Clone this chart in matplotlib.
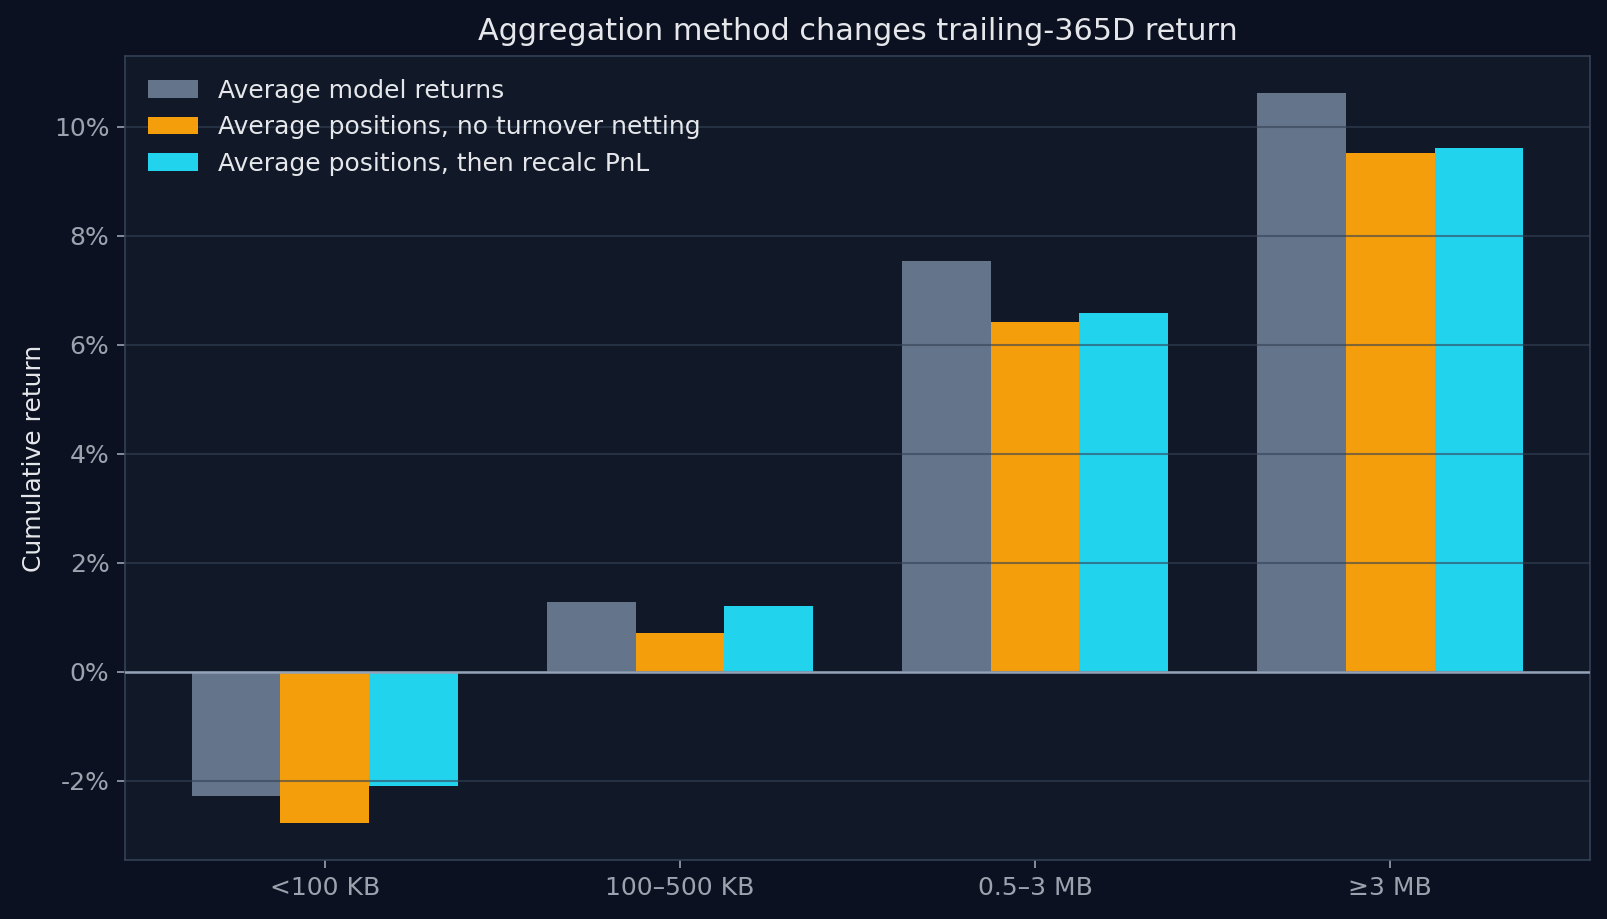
import matplotlib
matplotlib.use('Agg')
import matplotlib.pyplot as plt
import numpy as np
from matplotlib.ticker import FuncFormatter

BUCKETS = ['<100 KB', '100–500 KB', '0.5–3 MB', '≥3 MB']
MODEL_RETURNS = [-2.27, 1.28, 7.54, 10.62]
POS_NO_NETTING = [-2.78, 0.71, 6.41, 9.51]
POS_RECALC = [-2.09, 1.20, 6.58, 9.61]
LABELS = ['Average model returns',
          'Average positions, no turnover netting',
          'Average positions, then recalc PnL']
COLORS = ['#64748b', '#f59e0b', '#22d3ee']

FIG_BG = '#0b1120'
AX_BG = '#111827'
TEXT = '#e5e7eb'
TICK = '#9ca3af'
SPINE = '#334155'

fig = plt.figure(figsize=(1607 / 150, 919 / 150), dpi=150, facecolor=FIG_BG)
ax = fig.add_axes([0.0778, 0.0642, 0.9116, 0.8744], facecolor=AX_BG)

x = np.arange(len(BUCKETS))
width = 0.25
for i, (vals, lab, col) in enumerate(zip([MODEL_RETURNS, POS_NO_NETTING, POS_RECALC], LABELS, COLORS)):
    ax.bar(x + (i - 1) * width, vals, width, label=lab, color=col)

ax.axhline(0, color='#94a3b8', lw=1.2, zorder=3)

ax.set_xticks(x)
ax.set_xticklabels(BUCKETS)
ax.yaxis.set_major_formatter(FuncFormatter(lambda v, _: f'{v:.0f}%'))

ax.grid(axis='y', color=SPINE, alpha=0.6, lw=1)
ax.tick_params(colors=TICK, labelsize=12, length=4)
for s in ax.spines.values():
    s.set_color(SPINE)

ax.set_ylabel('Cumulative return', color=TEXT, fontsize=12)
ax.set_title('Aggregation method changes trailing-365D return', color=TEXT, fontsize=14.5, pad=8)

leg = ax.legend(loc='upper left', frameon=False, fontsize=12, labelcolor=TEXT)

fig.savefig('out.png', dpi=150, facecolor=FIG_BG)
